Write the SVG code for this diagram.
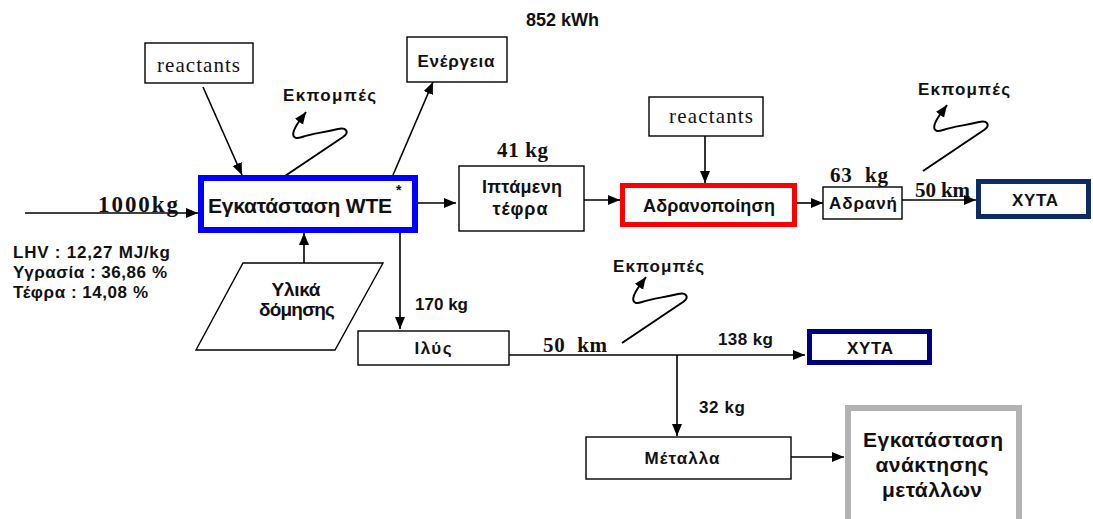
<svg xmlns="http://www.w3.org/2000/svg" xmlns:xlink="http://www.w3.org/1999/xlink" width="1093" height="519" viewBox="0 0 1093 519">
<defs>
<style>
.box{fill:#fff;stroke:#000;stroke-width:1.4}
.ln{fill:none;stroke:#000;stroke-width:1.6}
.sq{fill:none;stroke:#000;stroke-width:2}
.gs{font-family:"Liberation Sans",Arial,sans-serif;font-weight:bold;fill:#111}
.sr{font-family:"Liberation Serif","Times New Roman",serif;fill:#111}
.sb{font-family:"Liberation Serif","Times New Roman",serif;font-weight:bold;fill:#111}
.c{text-anchor:middle}
</style>
<marker id="ah" markerUnits="userSpaceOnUse" markerWidth="14" markerHeight="12" refX="12" refY="5" orient="auto">
<path d="M0,0 L12,5 L0,10 Z" fill="#000"/>
</marker>
<path id="squig" d="M282,178 L343,137 C350,132 346,127 338,129 C322,133 314,133 302,137 C290,141 292,132 298,123 L306,112"/>
</defs>
<rect width="1093" height="519" fill="#fff"/>

<g id="connectors">
<line class="ln" x1="25" y1="213" x2="198" y2="213" marker-end="url(#ah)"/>
<line class="ln" x1="203" y1="87" x2="242" y2="175" marker-end="url(#ah)"/>
<line class="ln" x1="393" y1="175" x2="433" y2="82" marker-end="url(#ah)"/>
<line class="ln" x1="418" y1="203" x2="456" y2="203" marker-end="url(#ah)"/>
<line class="ln" x1="584" y1="200" x2="620" y2="200" marker-end="url(#ah)"/>
<line class="ln" x1="705" y1="136" x2="705" y2="183" marker-end="url(#ah)"/>
<line class="ln" x1="797" y1="203" x2="823" y2="203" marker-end="url(#ah)"/>
<line class="ln" x1="902" y1="200" x2="976" y2="200" marker-end="url(#ah)"/>
<line class="ln" x1="304" y1="263" x2="304" y2="233" marker-end="url(#ah)"/>
<line class="ln" x1="400" y1="233" x2="400" y2="329" marker-end="url(#ah)"/>
<line class="ln" x1="507" y1="355" x2="805" y2="355" marker-end="url(#ah)"/>
<line class="ln" x1="677" y1="355" x2="677" y2="436" marker-end="url(#ah)"/>
<line class="ln" x1="791" y1="457" x2="844" y2="457" marker-end="url(#ah)"/>
<use xlink:href="#squig" class="sq" marker-end="url(#ah)"/>
<use xlink:href="#squig" class="sq" transform="translate(641,-7)" marker-end="url(#ah)"/>
<use xlink:href="#squig" class="sq" transform="translate(340,165)" marker-end="url(#ah)"/>
</g>

<g id="reactants1">
<rect class="box" x="145" y="43" width="108" height="40"/>
<text class="sr" x="198.5" y="72" font-size="21" text-anchor="middle" textLength="83">reactants</text>
</g>

<g id="energy">
<rect class="box" x="407" y="37" width="100" height="45"/>
<text class="gs c" x="456" y="67" font-size="17" textLength="77">Ενέργεια</text>
<text class="gs" x="526" y="26" font-size="18" textLength="73">852 kWh</text>
</g>

<g id="emissions-labels">
<text class="gs" x="283" y="101" font-size="17" textLength="93">Εκπομπές</text>
<text class="gs" x="918" y="95" font-size="17" textLength="92">Εκπομπές</text>
<text class="gs" x="613" y="272" font-size="17" textLength="91">Εκπομπές</text>
</g>

<g id="input">
<text class="sb" x="98" y="212" font-size="23" textLength="80">1000kg</text>
<text class="gs" x="13" y="258" font-size="17" textLength="157">LHV : 12,27 MJ/kg</text>
<text class="gs" x="13" y="278" font-size="17" textLength="154">Υγρασία : 36,86 %</text>
<text class="gs" x="13" y="298" font-size="17" textLength="135">Τέφρα : 14,08 %</text>
</g>

<g id="wte">
<rect x="201" y="178" width="214" height="52" fill="#fff" stroke="#0000ff" stroke-width="6"/>
<text class="gs" x="208" y="213" font-size="21" textLength="184">Εγκατάσταση WTE</text>
<text class="gs" x="396" y="195" font-size="14">*</text>
</g>

<g id="building-materials">
<polygon class="box" points="243,263 383,263 335,350 196,350"/>
<text class="gs c" x="296" y="296" font-size="19" textLength="49">Υλικά</text>
<text class="gs c" x="297" y="316" font-size="19" textLength="76">δόμησης</text>
</g>

<g id="fly-ash">
<rect class="box" x="459" y="166" width="125" height="65"/>
<text class="gs c" x="522" y="193" font-size="18" textLength="80">Ιπτάμενη</text>
<text class="gs c" x="520" y="215" font-size="18" textLength="55">τέφρα</text>
<text class="sb" x="497" y="157" font-size="21" textLength="51">41 kg</text>
</g>

<g id="reactants2">
<rect class="box" x="649" y="97" width="114" height="39"/>
<text class="sr" x="711" y="123" font-size="21" text-anchor="middle" textLength="84">reactants</text>
</g>

<g id="stabilisation">
<rect x="622.5" y="185.5" width="172" height="39" fill="#fff" stroke="#ff0000" stroke-width="5"/>
<text class="gs c" x="709" y="212" font-size="18" textLength="132">Αδρανοποίηση</text>
</g>

<g id="inert">
<rect class="box" x="823" y="187" width="79" height="32"/>
<text class="gs c" x="863" y="209" font-size="17" textLength="68">Αδρανή</text>
<text class="sb" x="830" y="182" font-size="21" textLength="58" xml:space="preserve">63  kg</text>
<text class="sb" x="915" y="197" font-size="21" textLength="55">50 km</text>
</g>

<g id="landfill1">
<rect x="978.5" y="181.5" width="110" height="35" fill="#fff" stroke="#0d2c66" stroke-width="5"/>
<text class="gs c" x="1035" y="206" font-size="17" textLength="46">XYTA</text>
</g>

<g id="sludge">
<rect class="box" x="358" y="331" width="151" height="34"/>
<text class="gs c" x="433" y="354" font-size="17" textLength="37">Ιλύς</text>
<text class="gs" x="415" y="310" font-size="17" textLength="53">170 kg</text>
<text class="sb" x="543" y="352" font-size="21" textLength="64" xml:space="preserve">50  km</text>
<text class="gs" x="718" y="345" font-size="17" textLength="55">138 kg</text>
</g>

<g id="landfill2">
<rect x="809.5" y="331.5" width="120" height="31" fill="#fff" stroke="#00007f" stroke-width="5"/>
<text class="gs c" x="870" y="354" font-size="17" textLength="46">XYTA</text>
</g>

<g id="metals">
<rect class="box" x="586" y="437" width="205" height="42"/>
<text class="gs c" x="682" y="464" font-size="17" textLength="75">Μέταλλα</text>
<text class="gs" x="699" y="413" font-size="17" textLength="46">32 kg</text>
</g>

<g id="metal-recovery">
<rect x="848" y="408" width="171" height="130" fill="#fff" stroke="#b3b3b3" stroke-width="6"/>
<text class="gs c" x="933" y="447" font-size="21" textLength="140">Εγκατάσταση</text>
<text class="gs c" x="932" y="472" font-size="21" textLength="113">ανάκτησης</text>
<text class="gs c" x="932" y="497" font-size="21" textLength="100">μετάλλων</text>
</g>
</svg>
